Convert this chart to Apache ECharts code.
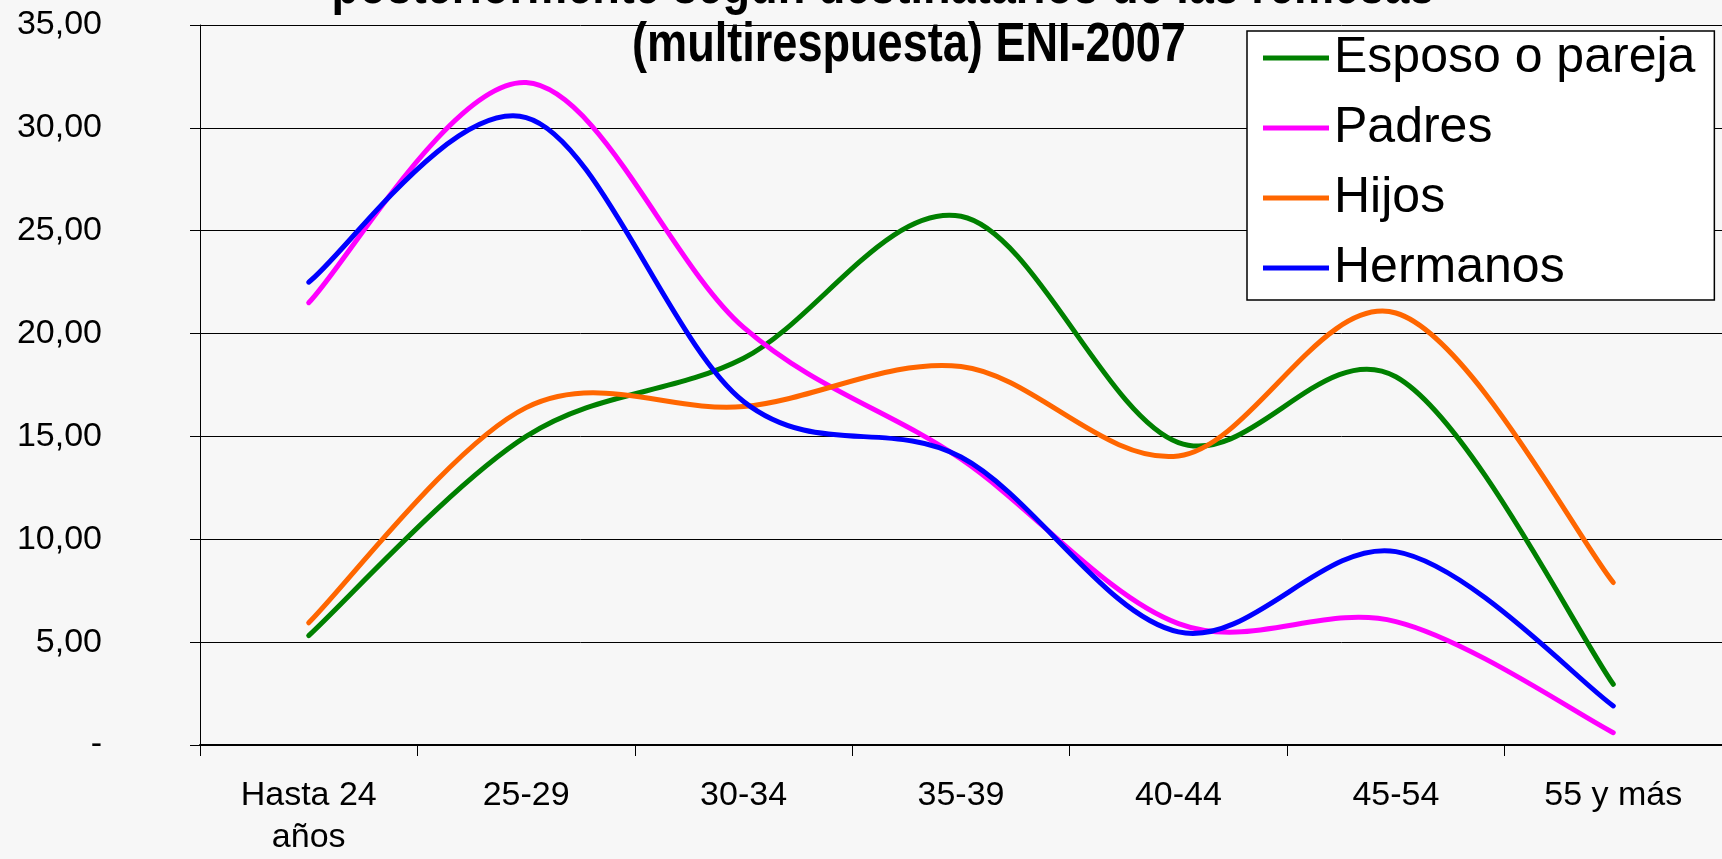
<!DOCTYPE html>
<html>
<head>
<meta charset="utf-8">
<script src="https://cdn.jsdelivr.net/npm/echarts@6/dist/echarts.min.js"></script>
<style>
  html, body { margin: 0; padding: 0; background: #f7f7f7; }
  #chart { width: 1722px; height: 859px; }
</style>
</head>
<body>
<div id="chart"></div>
<script>
// Age groups of the senders
const categories = ['Hasta 24\naños', '25-29', '30-34', '35-39', '40-44', '45-54', '55 y más'];

// Share (%) of remittances by recipient, per age group
const esposoPareja = [5.32, 15.0, 18.8, 25.7, 14.7, 17.9, 2.95];
const padres       = [21.5, 32.2, 20.3, 13.9, 5.9, 6.0, 0.6];
const hijos        = [5.94, 16.4, 16.45, 18.4, 14.05, 21.0, 7.9];
const hermanos     = [22.5, 30.5, 16.7, 14.0, 5.5, 9.4, 1.9];

const seriesNames  = ['Esposo o pareja', 'Padres', 'Hijos', 'Hermanos'];
const seriesColors = ['#008000', '#ff00ff', '#ff6600', '#0000ff'];
const seriesData   = [esposoPareja, padres, hijos, hermanos];

const titleLines = [
  'posteriormente según destinatarios de las remesas',
  '(multirespuesta) ENI-2007'
];

const font = '"Liberation Sans", Arial, sans-serif';

// Smoothed line through the data points (cardinal spline, tension 1/6),
// built from pixel positions given by the chart's own axes.
function smoothPath(pts) {
  let d = 'M' + pts[0][0] + ',' + pts[0][1];
  for (let k = 0; k < pts.length - 1; k++) {
    const p0 = pts[k - 1] || pts[k];
    const p1 = pts[k];
    const p2 = pts[k + 1];
    const p3 = pts[k + 2] || pts[k + 1];
    const c1x = p1[0] + (p2[0] - p0[0]) / 6, c1y = p1[1] + (p2[1] - p0[1]) / 6;
    const c2x = p2[0] - (p3[0] - p1[0]) / 6, c2y = p2[1] - (p3[1] - p1[1]) / 6;
    d += ' C' + c1x + ',' + c1y + ' ' + c2x + ',' + c2y + ' ' + p2[0] + ',' + p2[1];
  }
  return d;
}

function lineSeries(name, values, color) {
  return {
    name,
    type: 'custom',
    coordinateSystem: 'cartesian2d',
    data: values.map((v, j) => [j, v]),
    encode: { x: 0, y: 1 },
    itemStyle: { color },
    clip: false,
    renderItem: (params, api) => {
      if (params.dataIndex !== 0) return null;
      const pts = values.map((v, j) => api.coord([j, v]));
      return {
        type: 'path',
        shape: { pathData: smoothPath(pts) },
        style: { fill: 'none', stroke: color, lineWidth: 5, lineCap: 'round', lineJoin: 'round' }
      };
    }
  };
}

const chart = echarts.init(document.getElementById('chart'), null, { renderer: 'canvas' });

const titleStyle = (text) => ({
  text,
  fontFamily: font,
  fontWeight: 'bold',
  fontSize: 55,
  fill: '#000',
  align: 'center',
  verticalAlign: 'middle',
  textAlign: 'center',
  textVerticalAlign: 'middle'
});

chart.setOption({
  backgroundColor: '#f7f7f7',
  animation: false,
  graphic: [
    { type: 'text', x: 883, y: -12, scaleX: 0.82, z: 10, style: titleStyle(titleLines[0]) },
    { type: 'text', x: 909, y: 46, scaleX: 0.82, z: 10, style: titleStyle(titleLines[1]) }
  ],
  legend: {
    orient: 'vertical',
    left: 1247, top: 31,
    padding: [2, 19, 7, 16],
    itemGap: 20,
    itemWidth: 66,
    itemHeight: 5,
    icon: 'rect',
    backgroundColor: '#ffffff',
    borderColor: '#000000',
    borderWidth: 1.5,
    borderRadius: 0,
    data: seriesNames,
    textStyle: { fontFamily: font, fontSize: 50, lineHeight: 50, color: '#000' }
  },
  grid: { left: 200, top: 25, bottom: 111, width: 1526, containLabel: false },
  xAxis: {
    type: 'category',
    data: categories,
    boundaryGap: true,
    axisLine: { lineStyle: { color: '#000', width: 2 } },
    axisTick: { show: true, length: 11, alignWithLabel: false, lineStyle: { color: '#000', width: 1 } },
    axisLabel: { fontFamily: font, fontSize: 34, lineHeight: 42, color: '#000', margin: 30, interval: 0 },
    splitLine: { show: false }
  },
  yAxis: {
    type: 'value',
    min: 0, max: 35, interval: 5,
    axisLine: { show: true, lineStyle: { color: '#000', width: 1 } },
    axisTick: { show: true, length: 10, lineStyle: { color: '#000', width: 1 } },
    axisLabel: {
      fontFamily: font, fontSize: 34, color: '#000', margin: 98,
      formatter: v => v === 0 ? '-' : v.toFixed(2).replace('.', ',')
    },
    splitLine: { show: true, lineStyle: { color: '#000', width: 1 } }
  },
  series: seriesNames.map((name, i) => lineSeries(name, seriesData[i], seriesColors[i]))
});
</script>
</body>
</html>
